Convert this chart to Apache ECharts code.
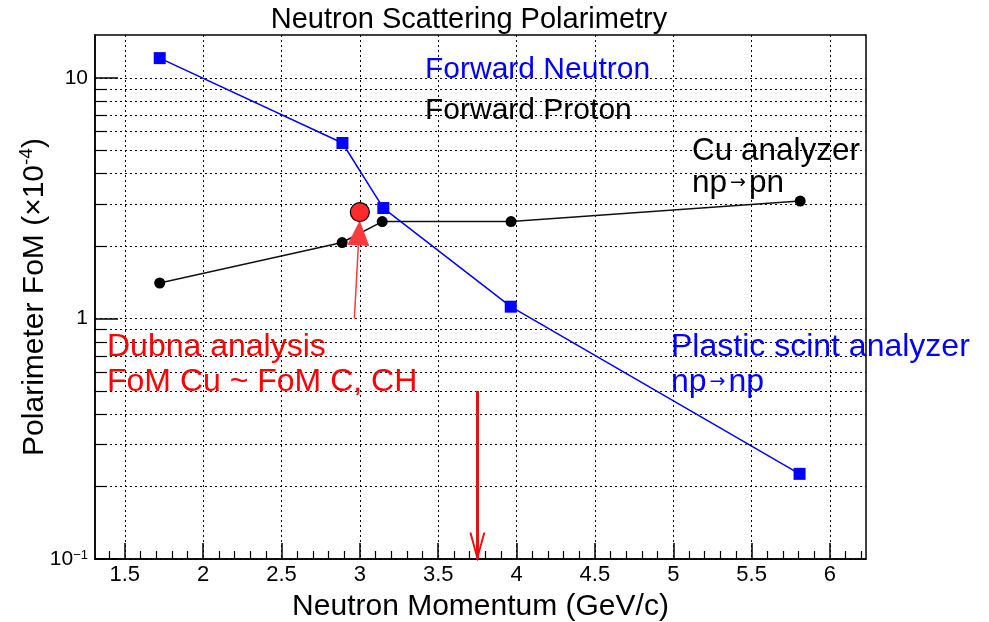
<!DOCTYPE html>
<html><head><meta charset="utf-8">
<script src="https://cdn.jsdelivr.net/npm/echarts@6/dist/echarts.min.js"></script>
<style>html,body{margin:0;padding:0;background:#fff}#c{width:989px;height:622px}</style>
</head><body><div id="c"></div>
<script>
const FONT = '"Liberation Sans", Arial, Helvetica, sans-serif';

// ---- data ----
const chartTitle = 'Neutron Scattering Polarimetry';
const xTitle = 'Neutron Momentum (GeV/c)';
const yTitle = 'Polarimeter FoM (×10{sup|-4})';

const neutronX = [1.723, 2.889, 3.150, 3.963, 5.806];
const neutronY = [12.1, 5.37, 2.88, 1.12, 0.226];

const protonX = [1.723, 2.887, 3.143, 3.965, 5.810];
const protonY = [1.405, 2.07, 2.53, 2.53, 3.08];

const dubnaX = [3.0];
const dubnaY = [2.77];

const dubnaArrowX = [2.965, 2.995];
const dubnaArrowY = [1.0, 2.27];
const downArrowX = [3.75, 3.75];
const downArrowY = [0.5, 0.1];

const xRange = [1.31, 6.23];
const yRange = [0.1, 15.1];
const xMajorTicks = [1.5, 2, 2.5, 3, 3.5, 4, 4.5, 5, 5.5, 6];
const xMinorTicks = [1.4, 1.6, 1.7, 1.8, 1.9, 2.1, 2.2, 2.3, 2.4, 2.6, 2.7, 2.8, 2.9,
  3.1, 3.2, 3.3, 3.4, 3.6, 3.7, 3.8, 3.9, 4.1, 4.2, 4.3, 4.4, 4.6, 4.7, 4.8, 4.9,
  5.1, 5.2, 5.3, 5.4, 5.6, 5.7, 5.8, 5.9, 6.1, 6.2];
const yMajorTicks = [0.1, 1, 10];
const yMajorLabels = ['10{s|−1}', '1', '10'];
const yMinorTicks = [0.2, 0.3, 0.4, 0.5, 0.6, 0.7, 0.8, 0.9, 2, 3, 4, 5, 6, 7, 8, 9];

// ---- chart ----
const pair = (xs, ys) => xs.map((x, i) => [x, ys[i]]);
const dotted = { color: '#000', width: 1, type: [2, 3] };
const BLUE = '#0000ff';
const RED = '#ff0000';

const chart = echarts.init(document.getElementById('c'), null, { renderer: 'canvas' });

const option = {
  backgroundColor: '#fff',
  animation: false,
  textStyle: { fontFamily: FONT },
  grid: { left: 95, right: 123, top: 35, bottom: 63, show: true, borderColor: '#000', borderWidth: 1.5, backgroundColor: 'transparent',
    outerBoundsMode: 'none', containLabel: false },
  xAxis: [
    {
      type: 'value', min: xRange[0], max: xRange[1], position: 'bottom',
      name: xTitle, nameLocation: 'middle', nameGap: 33, nameMoveOverlap: false,
      nameTextStyle: { fontFamily: FONT, fontSize: 30, color: '#000' },
      axisLine: { show: true, lineStyle: { color: '#000', width: 1.5 } },
      axisTick: { show: true, inside: true, length: 16, customValues: xMajorTicks, lineStyle: { color: '#000', width: 1.5 } },
      axisLabel: { show: true, customValues: xMajorTicks, margin: 5, fontFamily: FONT, fontSize: 22, color: '#000', formatter: v => String(v) },
      splitLine: { show: true, lineStyle: dotted }
    },
    {
      type: 'value', min: xRange[0], max: xRange[1], position: 'bottom',
      axisLine: { show: false },
      axisTick: { show: true, inside: true, length: 8, customValues: xMinorTicks, lineStyle: { color: '#000', width: 1.2 } },
      axisLabel: { show: false },
      splitLine: { show: false }
    }
  ],
  yAxis: [
    {
      type: 'log', logBase: 10, min: yRange[0], max: yRange[1], position: 'left',
      name: yTitle, nameLocation: 'middle', nameGap: 42, nameRotate: 90, nameMoveOverlap: false,
      nameTextStyle: { fontFamily: FONT, fontSize: 30, color: '#000',
        rich: { sup: { fontFamily: FONT, fontSize: 19, color: '#000', padding: [0, 0, 17, 0] } } },
      axisLine: { show: true, lineStyle: { color: '#000', width: 1.5 } },
      axisTick: { show: true, inside: true, length: 23, customValues: yMajorTicks, lineStyle: { color: '#000', width: 1.5 } },
      axisLabel: {
        show: true, customValues: yMajorTicks, margin: 7, fontFamily: FONT, fontSize: 21, color: '#000',
        formatter: v => { const i = yMajorTicks.findIndex(t => Math.abs(Math.log10(t) - Math.log10(v)) < 1e-6); return i >= 0 ? yMajorLabels[i] : ''; },
        rich: { s: { fontFamily: FONT, fontSize: 13, color: '#000', padding: [0, 0, 8, 0] } }
      },
      splitLine: { show: true, lineStyle: dotted }
    },
    {
      type: 'log', logBase: 10, min: yRange[0], max: yRange[1], position: 'left',
      axisLine: { show: false },
      axisTick: { show: true, inside: true, length: 12, customValues: yMinorTicks, lineStyle: { color: '#000', width: 1.2 } },
      axisLabel: { show: false },
      splitLine: { show: true, lineStyle: dotted }
    }
  ],
  series: [
    {
      name: 'Forward Proton', type: 'line', xAxisIndex: 0, yAxisIndex: 0,
      data: pair(protonX, protonY), symbol: 'circle', symbolSize: 11,
      itemStyle: { color: '#000' }, lineStyle: { color: '#111', width: 1.5 }, z: 3
    },
    {
      name: 'Forward Neutron', type: 'line', xAxisIndex: 0, yAxisIndex: 0,
      data: pair(neutronX, neutronY), symbol: 'rect', symbolSize: 12,
      itemStyle: { color: BLUE }, lineStyle: { color: BLUE, width: 1.5 }, z: 4
    },
    {
      name: 'Dubna', type: 'scatter', xAxisIndex: 0, yAxisIndex: 0,
      data: pair(dubnaX, dubnaY), symbol: 'circle', symbolSize: 19,
      itemStyle: { color: '#ff2a2a', borderColor: '#000', borderWidth: 1.2, opacity: 1 }, z: 6,
      markLine: {
        silent: true, z: 5, precision: 4, label: { show: false },
        data: [
          [
            { coord: pair(dubnaArrowX, dubnaArrowY)[0], symbol: 'none', lineStyle: { color: '#ff3a3a', width: 1.5, type: 'solid', opacity: 1 } },
            { coord: pair(dubnaArrowX, dubnaArrowY)[1], symbol: 'triangle', symbolSize: [22, 25] }
          ],
          [
            { coord: pair(downArrowX, downArrowY)[0], symbol: 'none', lineStyle: { color: '#e81010', width: 3, type: 'solid', opacity: 1 } },
            { coord: pair(downArrowX, downArrowY)[1], symbol: 'none' }
          ]
        ],
        itemStyle: { color: '#ff2a2a', opacity: 1 }
      },
      markPoint: {
        silent: true, label: { show: false },
        data: [
          { coord: pair(downArrowX, downArrowY)[1], symbol: 'path://M0,0 L2.6,0 L10,22 L17.4,0 L20,0 L10,29 Z',
            symbolSize: [16, 29], symbolOffset: [0, -12], itemStyle: { color: '#e81010', opacity: 1 } }
        ]
      }
    }
  ],
  graphic: [
    { type: 'text', x: 469, y: 20, z: 100, style: { text: chartTitle, fontFamily: FONT, fontSize: 29, fill: '#000', align: 'center', verticalAlign: 'middle', textAlign: 'center', textVerticalAlign: 'middle' } },
    { type: 'text', x: 425, y: 70, z: 100, style: { text: 'Forward Neutron', fontFamily: FONT, fontSize: 30, fill: BLUE, align: 'left', verticalAlign: 'middle' } },
    { type: 'text', x: 425, y: 111, z: 100, style: { text: 'Forward Proton', fontFamily: FONT, fontSize: 30, fill: '#000', align: 'left', verticalAlign: 'middle' } },
    { type: 'text', x: 692, y: 151, z: 100, style: { text: 'Cu analyzer', fontFamily: FONT, fontSize: 31.5, fill: '#000', align: 'left', verticalAlign: 'middle' } },
    { type: 'text', x: 692, y: 183, z: 100, style: { text: 'np{a|→}pn', fontFamily: FONT, fontSize: 31.5, fill: '#000', align: 'left', verticalAlign: 'middle',
        rich: { a: { fontFamily: '"DejaVu Sans", sans-serif', fontSize: 19, fill: '#000', padding: [0, 3, 0, 3] } } } },
    { type: 'text', x: 107, y: 347, z: 100, style: { text: 'Dubna analysis', fontFamily: FONT, fontSize: 32, fill: RED, align: 'left', verticalAlign: 'middle' } },
    { type: 'text', x: 107, y: 382, z: 100, style: { text: 'FoM Cu ~ FoM C, CH', fontFamily: FONT, fontSize: 32, fill: RED, align: 'left', verticalAlign: 'middle' } },
    { type: 'text', x: 671, y: 347, z: 100, style: { text: 'Plastic scint analyzer', fontFamily: FONT, fontSize: 32, fill: BLUE, align: 'left', verticalAlign: 'middle' } },
    { type: 'text', x: 671, y: 382, z: 100, style: { text: 'np{a|→}np', fontFamily: FONT, fontSize: 32, fill: BLUE, align: 'left', verticalAlign: 'middle',
        rich: { a: { fontFamily: '"DejaVu Sans", sans-serif', fontSize: 19, fill: BLUE, padding: [0, 3, 0, 3] } } } }
  ]
};
chart.setOption(option);
</script>
</body></html>
